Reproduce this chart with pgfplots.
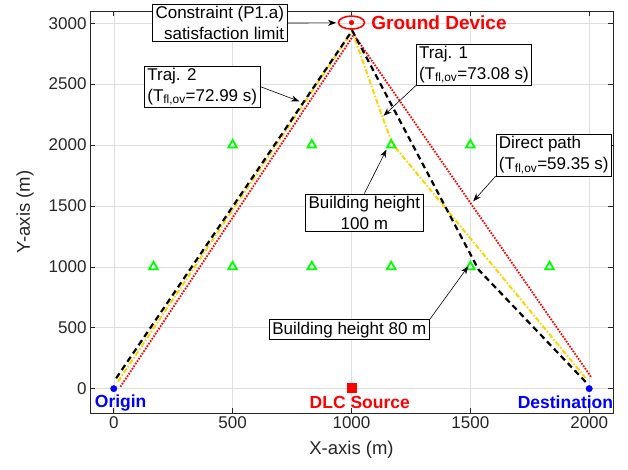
\documentclass[border=0pt]{standalone}
\usepackage{pgfplots}
\pgfplotsset{compat=1.18}
\usepackage{fontspec}
\setmainfont{Liberation Sans}
\usetikzlibrary{arrows.meta}
\definecolor{axgray}{RGB}{38,38,38}
\definecolor{gridgray}{RGB}{223,223,223}
\definecolor{trajyellow}{RGB}{255,210,0}
\definecolor{bgreen}{RGB}{0,255,0}
\pgfdeclareplotmark{ellipse}{%
  \pgfpathellipse{\pgfpointorigin}{\pgfqpoint{2\pgfplotmarksize}{0pt}}{\pgfqpoint{0pt}{\pgfplotmarksize}}%
  \pgfusepathqstroke}
\begin{document}
\begin{tikzpicture}
\begin{axis}[
  scale only axis, width=523pt, height=402pt,
  xmin=-100, xmax=2100, ymin=-200, ymax=3100,
  xtick={0,500,...,2000}, ytick={0,500,...,3000},
  grid=major, major grid style={gridgray, line width=0.5pt},
  tick align=inside, tick pos=both, major tick length=5pt,
  axis line style={axgray, line width=0.6pt},
  every tick/.style={axgray, line width=0.6pt},
  tick label style={font=\fontsize{17}{20}\selectfont, text=axgray},
  label style={font=\fontsize{18.5}{22}\selectfont, text=axgray},
  xlabel style={yshift=-6pt},
  ylabel style={yshift=8pt},
  /pgf/number format/assume math mode=true,
  /pgf/number format/1000 sep={},
  xlabel={X-axis (m)}, ylabel={Y-axis (m)},
  clip=false,
]
% Direct path
\addplot[red, line width=1.8pt, dash pattern=on 1.6pt off 1.4pt] coordinates {(28,15) (1010,2905) (2008,95)};
% Traj. 1
\addplot[trajyellow, line width=2pt, dash pattern=on 5pt off 2pt on 1.5pt off 2pt] coordinates {(18,58) (1003,2935) (1130,2230) (1172,2010) (1990,75)};
% Traj. 2
\addplot[black, line width=2.2pt, dash pattern=on 6pt off 4pt] coordinates {(10,85) (1003,2940) (1535,975) (1985,55)};
% Buildings
\addplot[only marks, mark=triangle, mark size=5pt, bgreen, mark options={line width=1.8pt}] coordinates {
 (167,1000) (500,1000) (833,1000) (1167,1000) (1500,1000) (1833,1000)
 (500,2000) (833,2000) (1167,2000) (1500,2000)};
% Origin / destination
\addplot[only marks, mark=*, blue, mark size=3.2pt] coordinates {(0,0) (2000,0)};
% DLC source
\addplot[only marks, mark=square*, red, mark size=4.5pt] coordinates {(1000,5)};
% Ground device
\addplot[only marks, mark=ellipse, red, mark size=6.5pt, mark options={line width=1.6pt}] coordinates {(1000,3005)};
\addplot[only marks, mark=*, red, mark size=2.3pt] coordinates {(1000,3005)};

\coordinate (pC) at (axis cs:446,3001);
\coordinate (tC) at (axis cs:935,3003);
\coordinate (pGD) at (axis cs:1083,3000);
\coordinate (pT2) at (axis cs:372,2479);
\coordinate (tT2) at (axis cs:780,2359);
\coordinate (pT1) at (axis cs:1515,2660);
\coordinate (tT1) at (axis cs:1135,2240);
\coordinate (pDP) at (axis cs:1851,1917);
\coordinate (tDP) at (axis cs:1512,1538);
\coordinate (pB1) at (axis cs:1054,1445);
\coordinate (tB1) at (axis cs:1147,1962);
\coordinate (pB2) at (axis cs:991,484);
\coordinate (tB2) at (axis cs:1491,1004);
\coordinate (pO) at (axis cs:29,-115);
\coordinate (pDLC) at (axis cs:1035,-115);
\coordinate (pDe) at (axis cs:1900,-112);
\end{axis}
\tikzset{box/.style={draw=black, fill=white, line width=0.6pt, inner xsep=3pt, inner ysep=2pt,
  font=\fontsize{17}{21}\selectfont, text=black},
  arr/.style={-{Stealth[length=8pt,width=6pt]}, line width=0.6pt, black}}
\node[box, align=right] (bC) at (pC) {Constraint (P1.a)\\satisfaction limit};
\draw[arr] (bC.east) -- (tC);
\node[anchor=west, inner sep=0pt, red, font=\fontsize{19}{22}\selectfont\bfseries] at (pGD) {Ground Device};
\node[box, align=left] (bT2) at (pT2) {Traj. 2\\(T\textsubscript{fl,ov}=72.99 s)};
\draw[arr] (bT2.east) -- (tT2);
\node[box, align=left] (bT1) at (pT1) {Traj. 1\\(T\textsubscript{fl,ov}=73.08 s)};
\draw[arr] (bT1.south west) -- (tT1);
\node[box, align=left] (bDP) at (pDP) {Direct path\\(T\textsubscript{fl,ov}=59.35 s)};
\draw[arr] (bDP.south west) -- (tDP);
\node[box, align=center] (bB1) at (pB1) {Building height\\100 m};
\draw[arr] (bB1.north) -- (tB1);
\node[box, align=center] (bB2) at (pB2) {Building height 80 m};
\draw[arr] (bB2.north east) -- (tB2);
\node[blue, font=\fontsize{17.5}{20}\selectfont\bfseries] at (pO) {Origin};
\node[red, font=\fontsize{17.5}{20}\selectfont\bfseries] at (pDLC) {DLC Source};
\node[blue, font=\fontsize{17.5}{20}\selectfont\bfseries] at (pDe) {Destination};
\path (current axis.south west) ++(-90pt,-57pt) coordinate (bbl);
\path (current axis.north east) ++(15pt,11pt) coordinate (btr);
\pgfresetboundingbox
\path (bbl) rectangle (btr);
\end{tikzpicture}
\end{document}
